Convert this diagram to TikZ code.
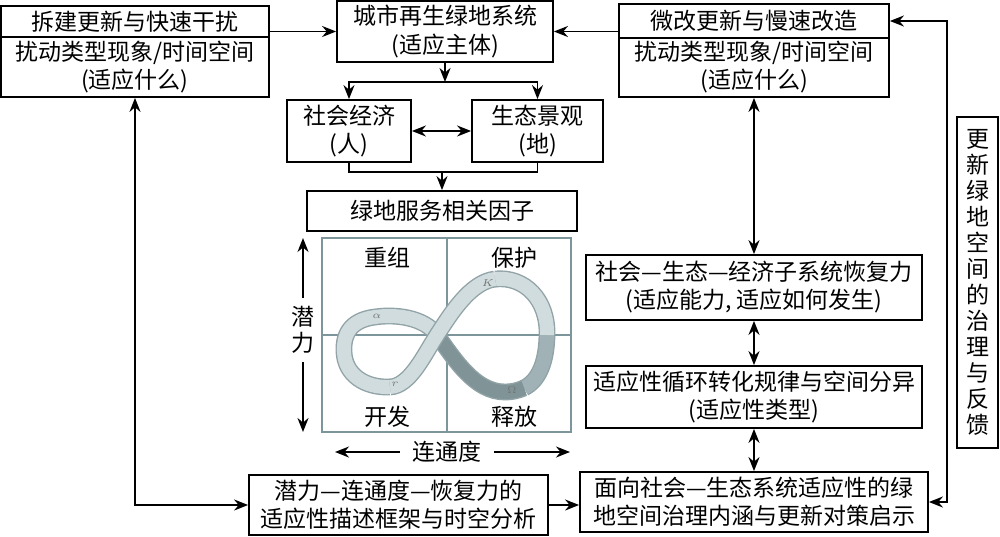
\documentclass[tikz,border=0pt]{standalone}
\usepackage{fontspec}
\setmainfont{Noto Sans CJK SC}
\usetikzlibrary{positioning, arrows.meta}
\definecolor{frameblue}{RGB}{125,150,155}
\definecolor{bandlight}{RGB}{208,220,222}
\definecolor{bandedge}{RGB}{145,163,167}
\definecolor{bandmid}{RGB}{160,178,182}
\definecolor{banddark}{RGB}{128,148,152}
\tikzset{box/.style={draw, line width=0.9pt, align=center, inner sep=0pt, font=\fontsize{11.5}{14}\selectfont},
         link/.style={line width=0.9pt, -{Stealth[length=7pt,width=5.5pt]}},
         dlink/.style={line width=0.9pt, {Stealth[length=7pt,width=5.5pt]}-{Stealth[length=7pt,width=5.5pt]}},
         lab/.style={font=\fontsize{11.5}{13}\selectfont, align=center, inner sep=3pt},
         greek/.style={font=\fontsize{4}{4}\selectfont, text=black!55, inner sep=0pt},
        }
\newcommand{\bandseg}[2]{\draw[bandedge, line width=8.4pt] #2; \draw[#1, line width=7pt] #2;}

\begin{document}
\begin{tikzpicture}[x=0.5pt, y=-0.5pt]
        \useasboundingbox (0,0) rectangle (1000,536);
        \node[box, minimum width=134pt, minimum height=15.5pt](A1)at(135,21.5){拆建更新与快速干扰};
        \node[box, minimum width=134pt, minimum height=30pt](A2)at(135,67){扰动类型现象/时间空间\\(适应什么)};
        \node[box, minimum width=108pt, minimum height=30.5pt](B)at(445,31.5){城市再生绿地系统\\(适应主体)};
        \node[box, minimum width=135pt, minimum height=17pt](C1)at(754,21){微改更新与慢速改造};
        \node[box, minimum width=135pt, minimum height=29.5pt](C2)at(754,67.5){扰动类型现象/时间空间\\(适应什么)};
        \node[box, minimum width=62pt, minimum height=31pt](SE)at(349,131){社会经济\\(人)};
        \node[box, minimum width=65.5pt, minimum height=31pt](EL)at(537.5,131){生态景观\\(地)};
        \node[box, minimum width=135pt, minimum height=20pt](GS)at(442,211){绿地服务相关因子};
        \node[box, minimum width=168pt, minimum height=32.5pt](F)at(754,287.5){社会—生态—经济子系统恢复力\\(适应能力, 适应如何发生)};
        \node[box, minimum width=168pt, minimum height=31pt](G)at(754,397){适应性循环转化规律与空间分异\\(适应性类型)};
        \node[box, minimum width=174pt, minimum height=30pt](E)at(754,502){面向社会—生态系统适应性的绿\\地空间治理内涵与更新对策启示};
        \node[box, minimum width=149.5pt, minimum height=30pt](D)at(398.5,505){潜力—连通度—恢复力的\\适应性描述框架与时空分析};
        \node[box, minimum width=20.5pt, minimum height=165.5pt, font=\fontsize{11.5}{13}\selectfont](H)at(977.5,282.5){更\\新\\绿\\地\\空\\间\\的\\治\\理\\与\\反\\馈};

        \draw[frameblue, line width=0.7pt] (322,238) rectangle (571,432);
        \draw[frameblue, line width=0.6pt] (447,238)--(447,432) (322,335)--(571,335);
        \bandseg{bandmid}{(547,335) .. controls (546.5,360) and (540,380) .. (524,388)}
        \bandseg{banddark}{(524,388) .. controls (517,391) and (511,392) .. (505,392) .. controls (475,392) and (455,360) .. (437,335)}
        \bandseg{bandlight}{(437,335) .. controls (424,317) and (395,314) .. (375,317) .. controls (350,320) and (343,335) .. (344,352) .. controls (345,375) and (365,388) .. (390,387)}
        \bandseg{bandlight}{(495,279) .. controls (525,276) and (548,300) .. (547,335)}
        \bandseg{bandlight}{(390,387) .. controls (410,386) and (424,355) .. (437,335) .. controls (450,315) and (470,282) .. (495,279)}
        \node[greek](alpha)at(377,316){$\alpha$};
        \node[greek](kk)at(488,283){$K$};
        \node[greek](rr)at(395,384){$r$};
        \node[greek](omega)at(512,390){$\Omega$};

        \node[lab](reorg)at(387,258){重组};
        \node[lab](protect)at(514,258){保护};
        \node[lab](develop)at(387,417){开发};
        \node[lab](release)at(514,417){释放};
        \node[lab, inner sep=4pt](pot)at(303,330){潜\\力};
        \coordinate(pt)at(303,238);
        \coordinate(pb)at(303,432);
        \draw[link](pot)--(pt);
        \draw[link](pot)--(pb);
        \node[lab, inner sep=6pt](conn)at(447,452){连通度};
        \coordinate(cl)at(335,452);
        \coordinate(cr)at(570,452);
        \draw[link](conn)--(cl);
        \draw[link](conn)--(cr);

        \draw[link](A1.east |- B.west)--(B.west);
        \draw[link](C1.west |- B.east)--(B.east);
        \coordinate(b1)at(445,82);
        \draw[link](B.south)--(b1);
        \draw[link](b1)-|(SE.north);
        \draw[link](b1)-|(EL.north);
        \draw[dlink](SE)--(EL);
        \coordinate(m1)at(442,172);
        \draw[line width=0.9pt](SE.south)|-(m1)-|(EL.south);
        \draw[link](m1)--(GS.north);
        \draw[dlink](C2.south)--(F.north);
        \draw[dlink](F.south)--(G.north);
        \draw[dlink](G.south)--(E.north);
        \draw[dlink](A2.south)|-(D.west);
        \draw[link](D.east)--(D.east -| E.west);
        \coordinate(fb)at(947,260);
        \draw[dlink](C1.east)-|(fb)|-(E.east);
    \end{tikzpicture}
\end{document}
